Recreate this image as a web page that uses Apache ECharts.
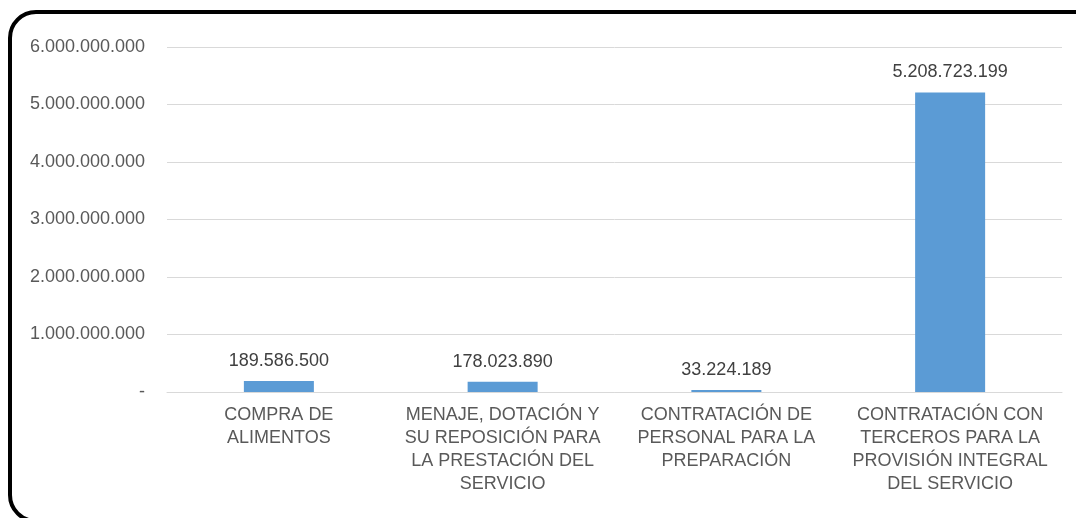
<!DOCTYPE html>
<html><head><meta charset="utf-8">
<script src="https://cdn.jsdelivr.net/npm/echarts@6/dist/echarts.min.js"></script>
<style>html,body{margin:0;padding:0;background:#fff}#c{width:1076px;height:518px}</style>
</head><body><div id="c"></div>
<script>
const categories = [
  "COMPRA DE\nALIMENTOS",
  "MENAJE, DOTACIÓN Y\nSU REPOSICIÓN PARA\nLA PRESTACIÓN DEL\nSERVICIO",
  "CONTRATACIÓN DE\nPERSONAL PARA LA\nPREPARACIÓN",
  "CONTRATACIÓN CON\nTERCEROS PARA LA\nPROVISIÓN INTEGRAL\nDEL SERVICIO"
];
const values = [189586500, 178023890, 33224189, 5208723199];
const yTicks = [0, 1000000000, 2000000000, 3000000000, 4000000000, 5000000000, 6000000000];

function fmt(v){
  if (v === 0) return '-';
  return String(Math.round(v)).replace(/\B(?=(\d{3})+(?!\d))/g, '.');
}
const FF = 'Liberation Sans, Arial, sans-serif';
const chart = echarts.init(document.getElementById('c'));
chart.setOption({
  animation:false,
  textStyle:{fontFamily:FF},
  graphic:[{
    type:'rect', z:100,
    shape:{x:10, y:12, width:1090, height:509, r:26},
    style:{fill:'none', stroke:'#000', lineWidth:4}
  }],
  grid:{left:167, right:14, top:47, bottom:126},
  xAxis:{
    type:'category', data:categories,
    axisLine:{show:true, lineStyle:{color:'#d9d9d9', width:1}},
    axisTick:{show:false},
    axisLabel:{color:'#595959', fontSize:18, lineHeight:23, margin:12, interval:0, fontFamily:FF}
  },
  yAxis:{
    type:'value', min:yTicks[0], max:yTicks[yTicks.length-1], interval:yTicks[1]-yTicks[0],
    axisLine:{show:false}, axisTick:{show:false},
    splitLine:{lineStyle:{color:'#d9d9d9', width:1}},
    axisLabel:{color:'#595959', fontSize:18, margin:22, formatter:fmt, fontFamily:FF}
  },
  series:[{
    type:'bar', data:values, barWidth:70,
    itemStyle:{color:'#5b9bd5'},
    label:{show:true, position:'top', distance:11, color:'#404040', fontSize:18,
      formatter:p=>fmt(p.value), fontFamily:FF}
  }]
});
</script></body></html>
